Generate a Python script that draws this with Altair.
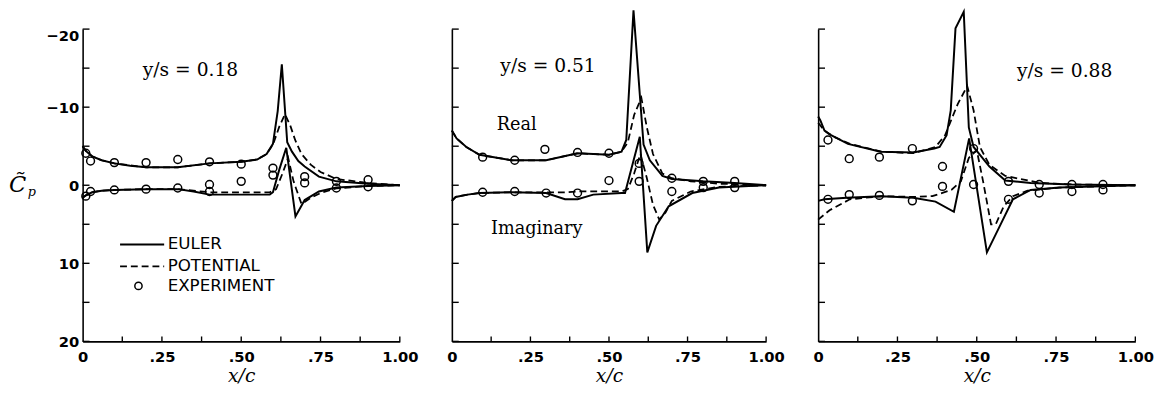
import altair as alt
import pandas as pd

# ---------------- data ----------------
PANEL_LABELS = ["y/s = 0.18", "y/s = 0.51", "y/s = 0.88"]
X_TICK_VALUES = [0, 0.25, 0.5, 0.75, 1]
X_TICK_LABELS = ["0", ".25", ".50", ".75", "1.00"]
Y_TICK_VALUES = [-20, -10, 0, 10, 20]
Y_TICK_LABELS = ["\u221220", "\u221210", "0", "10", "20"]
X_MINOR_TICKS = [0.125, 0.25, 0.375, 0.5, 0.625, 0.75, 0.875, 1.0]
Y_MINOR_TICKS = [-20, -15, -10, -5, 0, 5, 10, 15, 20]
LEGEND_LABELS = ["EULER", "POTENTIAL", "EXPERIMENT"]
CURVE_LABELS = ["Real", "Imaginary"]
Y_TITLE_MAIN = "C\u0303"
Y_TITLE_SUB = "p"

# Panel 1  (y/s = 0.18)
p1_euler_re_x = [0.0, 0.01, 0.03, 0.06, 0.10, 0.15, 0.20, 0.30, 0.40, 0.50, 0.55, 0.58, 0.60, 0.615, 0.628, 0.645, 0.66, 0.68, 0.70, 0.745, 0.80, 0.90, 1.00]
p1_euler_re_y = [-5.0, -4.4, -3.7, -3.2, -2.8, -2.5, -2.3, -2.3, -2.8, -3.0, -3.3, -4.0, -5.3, -9.5, -15.5, -5.5, -4.3, -3.1, -2.4, -1.1, -0.5, -0.2, 0.0]
p1_euler_im_x = [0.0, 0.01, 0.03, 0.06, 0.10, 0.20, 0.30, 0.35, 0.40, 0.50, 0.59, 0.60, 0.62, 0.642, 0.671, 0.70, 0.745, 0.80, 0.90, 1.00]
p1_euler_im_y = [1.6, 1.3, 0.9, 0.7, 0.6, 0.5, 0.5, 0.8, 1.2, 1.2, 1.2, 0.9, -2.0, -4.8, 4.0, 1.9, 0.8, 0.3, 0.1, 0.0]
p1_pot_re_x = [0.0, 0.01, 0.03, 0.06, 0.10, 0.20, 0.30, 0.40, 0.50, 0.55, 0.58, 0.60, 0.62, 0.638, 0.655, 0.67, 0.69, 0.72, 0.75, 0.80, 0.90, 1.00]
p1_pot_re_y = [-5.0, -4.4, -3.7, -3.2, -2.8, -2.3, -2.3, -2.8, -3.0, -3.3, -4.0, -5.2, -7.5, -9.1, -7.6, -5.8, -4.0, -2.6, -1.7, -0.8, -0.3, 0.0]
p1_pot_im_x = [0.0, 0.01, 0.03, 0.06, 0.10, 0.20, 0.30, 0.40, 0.50, 0.59, 0.61, 0.63, 0.648, 0.665, 0.69, 0.72, 0.75, 0.80, 0.90, 1.00]
p1_pot_im_y = [1.6, 1.3, 0.9, 0.7, 0.6, 0.5, 0.5, 0.9, 0.9, 0.9, 0.5, -1.5, -3.5, -0.5, 2.4, 1.6, 1.0, 0.4, 0.1, 0.0]
p1_exp_re_x = [0.01, 0.025, 0.10, 0.20, 0.30, 0.40, 0.50, 0.60, 0.70, 0.80, 0.90]
p1_exp_re_y = [-4.1, -3.1, -2.9, -2.9, -3.3, -3.0, -2.7, -2.2, -1.1, -0.5, -0.7]
p1_exp_im_x = [0.01, 0.025, 0.10, 0.20, 0.30, 0.40, 0.40, 0.50, 0.60, 0.70, 0.80, 0.90]
p1_exp_im_y = [1.4, 0.8, 0.6, 0.5, 0.35, -0.1, 0.8, -0.5, -1.3, -0.3, 0.35, 0.2]

# Panel 2  (y/s = 0.51)
p2_euler_re_x = [0.0, 0.015, 0.046, 0.088, 0.19, 0.30, 0.40, 0.50, 0.54, 0.555, 0.578, 0.61, 0.63, 0.67, 0.70, 0.80, 0.90, 1.00]
p2_euler_re_y = [-7.0, -6.0, -4.9, -3.9, -3.2, -3.2, -4.1, -3.9, -4.3, -5.8, -22.4, -5.2, -3.2, -1.2, -0.8, -0.5, -0.3, 0.0]
p2_euler_im_x = [0.0, 0.012, 0.05, 0.088, 0.19, 0.30, 0.36, 0.40, 0.45, 0.54, 0.551, 0.598, 0.622, 0.65, 0.69, 0.765, 0.85, 1.00]
p2_euler_im_y = [2.0, 1.5, 1.2, 1.0, 0.9, 1.0, 1.8, 1.8, 1.2, 1.0, 1.0, -6.2, 8.6, 5.2, 2.7, 1.0, 0.3, 0.0]
p2_pot_re_x = [0.0, 0.015, 0.046, 0.088, 0.19, 0.30, 0.40, 0.50, 0.54, 0.56, 0.58, 0.603, 0.62, 0.64, 0.67, 0.70, 0.76, 0.85, 1.00]
p2_pot_re_y = [-7.0, -6.0, -4.9, -3.9, -3.2, -3.2, -4.1, -3.9, -4.3, -5.5, -9.0, -11.2, -7.5, -4.0, -1.5, -0.9, -0.5, -0.2, 0.0]
p2_pot_im_x = [0.0, 0.012, 0.05, 0.088, 0.19, 0.30, 0.36, 0.40, 0.45, 0.54, 0.56, 0.58, 0.60, 0.62, 0.64, 0.66, 0.68, 0.70, 0.76, 0.85, 1.00]
p2_pot_im_y = [2.0, 1.5, 1.2, 1.0, 0.9, 0.9, 0.9, 0.8, 0.8, 0.8, 0.5, -1.5, -4.0, -1.0, 2.5, 4.4, 3.5, 2.0, 0.8, 0.2, 0.0]
p2_exp_re_x = [0.098, 0.20, 0.296, 0.40, 0.50, 0.596, 0.70, 0.80, 0.90]
p2_exp_re_y = [-3.6, -3.2, -4.6, -4.2, -4.1, -2.8, -0.9, -0.5, -0.5]
p2_exp_im_x = [0.098, 0.20, 0.30, 0.40, 0.50, 0.596, 0.70, 0.80, 0.90]
p2_exp_im_y = [0.9, 0.8, 1.0, 1.0, -0.6, -0.5, 0.8, 0.3, 0.3]

# Panel 3  (y/s = 0.88)
p3_euler_re_x = [0.0, 0.007, 0.02, 0.036, 0.094, 0.197, 0.30, 0.366, 0.383, 0.405, 0.418, 0.433, 0.459, 0.475, 0.49, 0.54, 0.59, 0.67, 0.80, 1.00]
p3_euler_re_y = [-8.8, -8.3, -7.0, -6.5, -5.3, -4.3, -4.2, -4.7, -4.9, -6.4, -9.6, -20.1, -22.2, -7.4, -4.9, -2.4, -0.6, -0.3, -0.1, 0.0]
p3_euler_im_x = [0.0, 0.02, 0.09, 0.20, 0.30, 0.37, 0.428, 0.476, 0.532, 0.573, 0.614, 0.67, 0.76, 1.00]
p3_euler_im_y = [2.0, 1.8, 1.6, 1.4, 1.6, 2.1, 3.4, -6.0, 8.6, 5.2, 1.8, 0.6, 0.3, 0.0]
p3_pot_re_x = [0.0, 0.02, 0.05, 0.10, 0.20, 0.30, 0.37, 0.40, 0.44, 0.47, 0.49, 0.51, 0.54, 0.59, 0.70, 0.80, 1.00]
p3_pot_re_y = [-8.0, -7.0, -6.2, -5.3, -4.3, -4.1, -4.9, -6.4, -10.4, -12.7, -9.6, -4.9, -2.6, -1.2, -0.3, -0.1, 0.0]
p3_pot_im_x = [0.0, 0.036, 0.10, 0.20, 0.30, 0.36, 0.42, 0.45, 0.475, 0.50, 0.52, 0.545, 0.56, 0.585, 0.614, 0.66, 0.76, 1.00]
p3_pot_im_y = [4.4, 3.2, 1.8, 1.4, 1.5, 1.4, 0.6, -0.5, -3.5, -4.5, -0.5, 5.0, 5.0, 2.7, 1.4, 0.7, 0.3, 0.0]
p3_exp_re_x = [0.031, 0.098, 0.193, 0.297, 0.392, 0.49, 0.60, 0.697, 0.80, 0.898]
p3_exp_re_y = [-5.8, -3.4, -3.6, -4.7, -2.4, -4.7, -0.5, -0.1, -0.1, -0.1]
p3_exp_im_x = [0.031, 0.098, 0.193, 0.297, 0.392, 0.49, 0.60, 0.697, 0.80, 0.898]
p3_exp_im_y = [1.8, 1.2, 1.3, 2.0, 0.15, -0.1, 1.8, 1.0, 0.8, 0.6]

# ---------------- layout constants ----------------
WIDTHS = [323, 320, 323]
HEIGHT = 318
SPACING = 28
SANS = "DejaVu Sans"
SERIF = "DejaVu Serif"

x_scale = alt.Scale(domain=[0, 1], nice=False, zero=False)
y_scale = alt.Scale(domain=[-20, 20], reverse=True, nice=False, zero=False)

x_label_expr = "[{}][indexof([{}], datum.value)]".format(
    ",".join("'%s'" % s for s in X_TICK_LABELS), ",".join(str(v) for v in X_TICK_VALUES))
y_label_expr = "[{}][indexof([{}], datum.value)]".format(
    ",".join("'%s'" % s for s in Y_TICK_LABELS), ",".join(str(v) for v in Y_TICK_VALUES))

x_axis = alt.Axis(values=X_TICK_VALUES, labelExpr=x_label_expr, ticks=False, tickSize=0,
                  grid=False, domainColor="black", domainWidth=1.6, labelFont=SANS,
                  labelFontSize=15, labelFontWeight="bold", labelColor="black", labelPadding=9,
                  labelFlush=False, labelOverlap=False, title="x/c", titleFont=SERIF,
                  titleFontStyle="italic", titleFontWeight="normal", titleFontSize=19,
                  titleColor="black", titlePadding=2)


def y_axis(show):
    if show:
        return alt.Axis(values=Y_TICK_VALUES, labelExpr=y_label_expr, ticks=False, tickSize=0,
                        grid=False, domainColor="black", domainWidth=1.6, labelFont=SANS,
                        labelFontSize=15, labelFontWeight="bold", labelColor="black",
                        labelPadding=4, labelOverlap=False, labelFlush=False,
                        labelOffset={"condition": {"test": "datum.value == -20", "value": 7},
                                     "value": 0},
                        title=None)
    return alt.Axis(labels=False, ticks=False, tickSize=0, grid=False, domainColor="black",
                    domainWidth=1.6, title=None)


def curve_df(re_x, re_y, im_x, im_y):
    rows = []
    for comp, xs, ys in (("real", re_x, re_y), ("imag", im_x, im_y)):
        for i, (a, b) in enumerate(zip(xs, ys)):
            rows.append({"x": a, "y": b, "comp": comp, "i": i})
    return pd.DataFrame(rows)


def make_panel(k, euler, pot, exp, width, show_y):
    X = alt.X("x:Q", scale=x_scale, axis=x_axis)
    Y = alt.Y("y:Q", scale=y_scale, axis=y_axis(show_y))

    e_line = alt.Chart(curve_df(*euler)).mark_line(
        color="black", strokeWidth=2.0, clip=False
    ).encode(x=X, y=Y, detail="comp:N", order="i:Q")
    p_line = alt.Chart(curve_df(*pot)).mark_line(
        color="black", strokeWidth=1.8, strokeDash=[7, 4], clip=False
    ).encode(x=X, y=Y, detail="comp:N", order="i:Q")
    pts = alt.Chart(curve_df(*exp)).mark_point(
        shape="circle", filled=False, color="black", size=64, strokeWidth=1.5, opacity=1
    ).encode(x=X, y=Y)

    yt = alt.Chart(pd.DataFrame({"y": Y_MINOR_TICKS})).mark_rule(
        color="black", strokeWidth=1.4
    ).encode(y=Y, x=alt.value(0), x2=alt.value(7))
    xt = alt.Chart(pd.DataFrame({"x": X_MINOR_TICKS})).mark_rule(
        color="black", strokeWidth=1.4
    ).encode(x=X, y=alt.value(HEIGHT), y2=alt.value(HEIGHT - 5))

    label_pos = [(0.34, -14.8), (0.306, -15.2), (0.777, -14.6)][k]
    title_txt = alt.Chart(pd.DataFrame({"x": [label_pos[0]], "y": [label_pos[1]],
                                        "t": [PANEL_LABELS[k]]})).mark_text(
        font=SERIF, fontSize=19, color="black", align="center", baseline="middle"
    ).encode(x=X, y=Y, text="t:N")

    layers = [e_line, p_line, pts, yt, xt, title_txt]

    if k == 0:
        leg_lines = pd.DataFrame({"x": [0.118, 0.118], "x2": [0.257, 0.257],
                                  "y": [7.6, 10.4]})
        l1 = alt.Chart(leg_lines.iloc[[0]]).mark_rule(color="black", strokeWidth=2.0).encode(
            x=X, x2="x2:Q", y=Y)
        l2 = alt.Chart(leg_lines.iloc[[1]]).mark_rule(color="black", strokeWidth=1.8,
                                                      strokeDash=[7, 4]).encode(x=X, x2="x2:Q", y=Y)
        l3 = alt.Chart(pd.DataFrame({"x": [0.176], "y": [12.9]})).mark_point(
            shape="circle", filled=False, color="black", size=55, strokeWidth=1.5, opacity=1
        ).encode(x=X, y=Y)
        ltxt = alt.Chart(pd.DataFrame({"x": [0.268] * 3, "y": [7.6, 10.4, 12.9],
                                       "t": LEGEND_LABELS})).mark_text(
            font=SANS, fontSize=17, color="black", align="left", baseline="middle"
        ).encode(x=X, y=Y, text="t:N")
        # y-axis title  C~p
        c_txt = alt.Chart(pd.DataFrame({"x": [-0.205], "y": [0.0], "t": [Y_TITLE_MAIN]})).mark_text(
            font=SERIF, fontSize=23, fontStyle="italic", color="black", align="center",
            baseline="middle").encode(x=X, y=Y, text="t:N")
        p_txt = alt.Chart(pd.DataFrame({"x": [-0.16], "y": [0.9], "t": [Y_TITLE_SUB]})).mark_text(
            font=SERIF, fontSize=13, fontStyle="italic", color="black", align="center",
            baseline="middle").encode(x=X, y=Y, text="t:N")
        layers += [l1, l2, l3, ltxt, c_txt, p_txt]

    if k == 1:
        ann = alt.Chart(pd.DataFrame({"x": [0.206, 0.27], "y": [-7.7, 5.6],
                                      "t": CURVE_LABELS})).mark_text(
            font=SERIF, fontSize=18, color="black", align="center", baseline="middle"
        ).encode(x=X, y=Y, text="t:N")
        layers.append(ann)

    return alt.layer(*layers).properties(width=width, height=HEIGHT)


p1 = make_panel(0, (p1_euler_re_x, p1_euler_re_y, p1_euler_im_x, p1_euler_im_y),
                (p1_pot_re_x, p1_pot_re_y, p1_pot_im_x, p1_pot_im_y),
                (p1_exp_re_x, p1_exp_re_y, p1_exp_im_x, p1_exp_im_y), WIDTHS[0], True)
p2 = make_panel(1, (p2_euler_re_x, p2_euler_re_y, p2_euler_im_x, p2_euler_im_y),
                (p2_pot_re_x, p2_pot_re_y, p2_pot_im_x, p2_pot_im_y),
                (p2_exp_re_x, p2_exp_re_y, p2_exp_im_x, p2_exp_im_y), WIDTHS[1], False)
p3 = make_panel(2, (p3_euler_re_x, p3_euler_re_y, p3_euler_im_x, p3_euler_im_y),
                (p3_pot_re_x, p3_pot_re_y, p3_pot_im_x, p3_pot_im_y),
                (p3_exp_re_x, p3_exp_re_y, p3_exp_im_x, p3_exp_im_y), WIDTHS[2], False)

chart = alt.hconcat(p1, p2, p3, spacing=SPACING).properties(
    padding={"top": -6, "left": 0, "right": 0, "bottom": 0}, background="white"
).configure_view(stroke=None)

chart.save("out.html", embed_options={"renderer": "svg", "actions": False})
